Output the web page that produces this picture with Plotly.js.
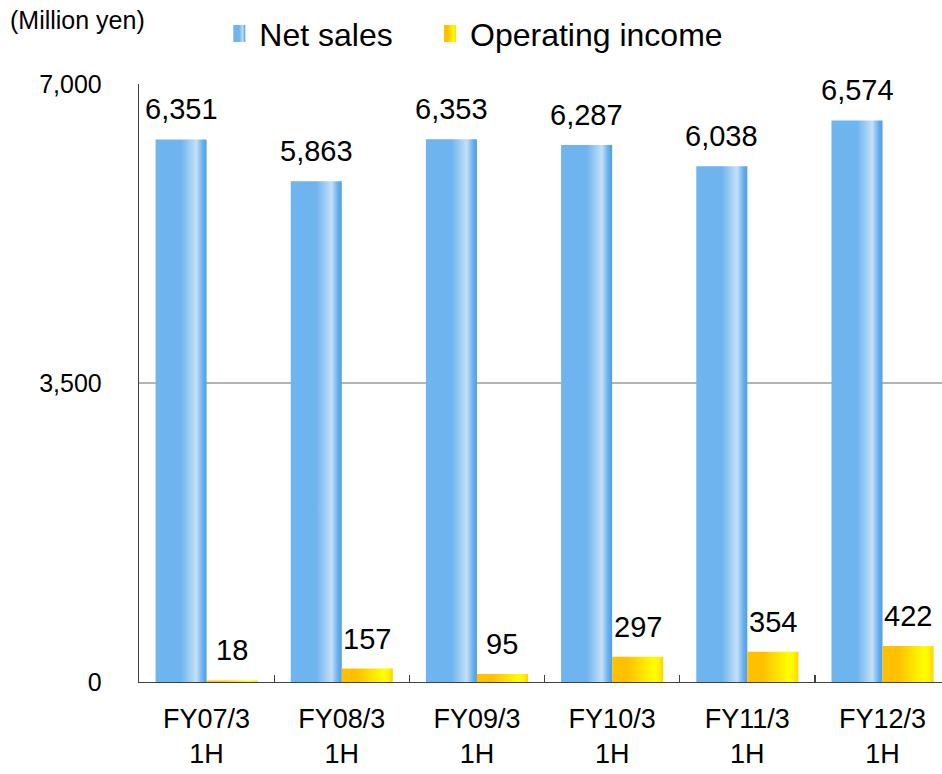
<!DOCTYPE html>
<html>
<head>
<meta charset="utf-8">
<script src="https://cdn.plot.ly/plotly-3.0.1.min.js"></script>
<style>
html,body{margin:0;padding:0;background:#fff;}
#chart{width:942px;height:774px;}
</style>
</head>
<body>
<div id="chart"></div>
<script>
const categories = ['FY07/3<br>1H','FY08/3<br>1H','FY09/3<br>1H','FY10/3<br>1H','FY11/3<br>1H','FY12/3<br>1H'];
const netSales = [6351, 5863, 6353, 6287, 6038, 6574];
const operatingIncome = [18, 157, 95, 297, 354, 422];
const yTicks = [0, 3500, 7000];
const seriesNames = ['Net sales', 'Operating income'];
const unitLabel = '(Million yen)';

const FONT = 'Liberation Sans, Arial, sans-serif';
const fmt = v => v.toLocaleString('en-US');

const data = [
  {type:'bar', name:seriesNames[0], x:categories, y:netSales, legend:'legend',
   marker:{color:'#6EB4EF', line:{width:0}}, hoverinfo:'skip'},
  {type:'bar', name:seriesNames[1], x:categories, y:operatingIncome, legend:'legend2',
   marker:{color:'#FFC000', line:{width:0}}, hoverinfo:'skip'}
];

const annotations = [];
categories.forEach((c, i) => {
  annotations.push({x:c, y:netSales[i], xref:'x', yref:'y', text:fmt(netSales[i]),
    showarrow:false, xanchor:'center', yanchor:'bottom', xshift:-25.5, yshift:12,
    font:{family:FONT, size:29, color:'#000'}});
  annotations.push({x:c, y:operatingIncome[i], xref:'x', yref:'y', text:fmt(operatingIncome[i]),
    showarrow:false, xanchor:'center', yanchor:'bottom', xshift:25.5, yshift:12,
    font:{family:FONT, size:29, color:'#000'}});
});
annotations.push({xref:'paper', yref:'paper', x:-0.163, y:1.107, xanchor:'left', yanchor:'middle',
  text:unitLabel, showarrow:false, font:{family:FONT, size:25, color:'#000'}});

const legendBase = {orientation:'h', y:1.084, xanchor:'left', yanchor:'middle',
  font:{family:FONT, size:32, color:'#000'}, bgcolor:'rgba(0,0,0,0)'};

const layout = {
  width:942, height:774,
  margin:{l:139, r:0, t:84, b:92, pad:0},
  paper_bgcolor:'#fff', plot_bgcolor:'#fff',
  barmode:'group', bargap:0.245, bargroupgap:0,
  showlegend:true,
  legend:Object.assign({x:0.1}, legendBase),
  legend2:Object.assign({x:0.3624}, legendBase),
  xaxis:{type:'category', range:[-0.5, 5.44], showline:true, linecolor:'#404040', linewidth:1.3,
    ticks:'inside', tickson:'boundaries', ticklen:7, tickcolor:'#404040', tickwidth:1.3,
    tickfont:{family:FONT, size:27, color:'#000'}, ticklabelstandoff:12,
    showgrid:false, fixedrange:true},
  yaxis:{range:[0,7000], tickvals:yTicks, tickformat:',d', showline:true, linecolor:'#404040', linewidth:1.3,
    ticks:'', showgrid:true, gridcolor:'#b4b4b4', gridwidth:1.3, zeroline:false,
    tickfont:{family:FONT, size:25, color:'#000'}, ticklabelstandoff:31, fixedrange:true},
  annotations:annotations,
  font:{family:FONT}
};

function addGradients(gd){
  const svg = gd.querySelector('.main-svg');
  const NS = 'http://www.w3.org/2000/svg';
  let defs = svg.querySelector('defs');
  if(!defs){defs = document.createElementNS(NS,'defs'); svg.insertBefore(defs, svg.firstChild);}
  const grads = {
    gBlue:[[0,'#6EB4EF'],[0.5,'#6EB4EF'],[0.8,'#C4E0F8'],[0.92,'#6AB0EE'],[1,'#4C9FE6']],
    gGold:[[0,'#FFC000'],[0.3,'#FFC000'],[0.82,'#FFFF00'],[0.92,'#FFF000'],[1,'#FFD000']]
  };
  Object.keys(grads).forEach(id => {
    const lg = document.createElementNS(NS,'linearGradient');
    lg.setAttribute('id', id);
    lg.setAttribute('x1','0'); lg.setAttribute('y1','0'); lg.setAttribute('x2','1'); lg.setAttribute('y2','0');
    grads[id].forEach(([o,c]) => {
      const s = document.createElementNS(NS,'stop');
      s.setAttribute('offset', o); s.setAttribute('stop-color', c);
      lg.appendChild(s);
    });
    defs.appendChild(lg);
  });
  const ids = ['gBlue','gGold'];
  gd.querySelectorAll('.barlayer .trace').forEach((tr, i) => {
    tr.querySelectorAll('path').forEach(p => { p.style.fill = 'url(#' + ids[i] + ')'; });
  });
  const legendGroups = [gd.querySelector('.legend'), gd.querySelector('.legend2')];
  legendGroups.forEach((lgd, i) => {
    if(!lgd) return;
    lgd.querySelectorAll('.legendpoints path').forEach(p => {
      p.style.fill = 'url(#' + ids[i] + ')'; p.setAttribute('d','M6,8.5H-6V-8.5H6Z'); p.style.stroke='none';
    });
  });
}

Plotly.newPlot('chart', data, layout, {staticPlot:true, displayModeBar:false}).then(addGradients);
</script>
</body>
</html>
